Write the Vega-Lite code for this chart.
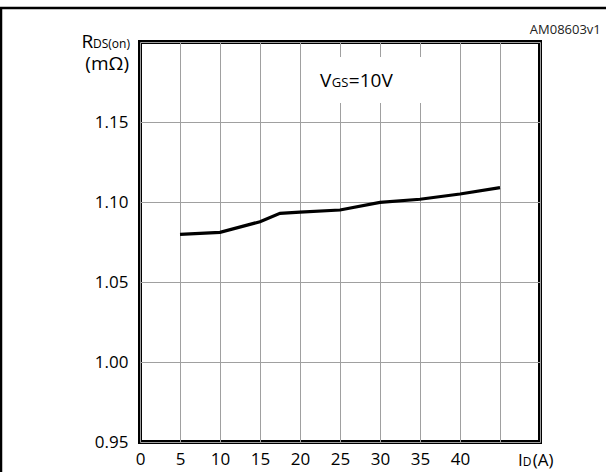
{
  "$schema": "https://vega.github.io/schema/vega-lite/v6.json",
  "width": 400,
  "height": 400,
  "autosize": "none",
  "padding": {"left": 140, "top": 42, "right": 66, "bottom": 30},
  "background": "white",
  "config": {
    "view": {"stroke": "black", "strokeWidth": 4},
    "font": "Open Sans",
    "axis": {
      "domain": false,
      "ticks": false,
      "grid": true,
      "gridColor": "#a0a0a0",
      "gridWidth": 1,
      "gridOpacity": 1,
      "labelFont": "Open Sans",
      "labelFontSize": 17,
      "labelColor": "black",
      "labelOverlap": false,
      "title": null
    }
  },
  "data": {
    "values": [
      {"id": 5, "r": 1.0798},
      {"id": 10, "r": 1.081},
      {"id": 15, "r": 1.0877},
      {"id": 17.5, "r": 1.0929},
      {"id": 20, "r": 1.0937},
      {"id": 25, "r": 1.095},
      {"id": 30, "r": 1.0998},
      {"id": 35, "r": 1.1017},
      {"id": 40, "r": 1.105},
      {"id": 45, "r": 1.109}
    ]
  },
  "encoding": {
    "x": {
      "field": "id",
      "type": "quantitative",
      "scale": {"domain": [0, 50], "nice": false, "zero": false},
      "axis": {
        "values": [0, 5, 10, 15, 20, 25, 30, 35, 40, 45, 50],
        "labelExpr": "datum.value <= 40 ? datum.label : ''",
        "labelPadding": 9,
        "labelFlush": false,
        "labelOverlap": false
      }
    },
    "y": {
      "field": "r",
      "type": "quantitative",
      "scale": {"domain": [0.95, 1.2], "nice": false, "zero": false},
      "axis": {
        "values": [0.95, 1.0, 1.05, 1.1, 1.15, 1.2],
        "format": ".2f",
        "labelExpr": "datum.value > 1.19 ? '' : datum.label",
        "labelPadding": 12,
        "labelOverlap": false
      }
    }
  },
  "layer": [
    {
      "mark": {"type": "line", "color": "black", "strokeWidth": 3.2}
    },
    {
      "transform": [{"filter": "datum.id == 5"}],
      "mark": {"type": "rect", "fill": "white", "stroke": null},
      "encoding": {
        "x": {"datum": 20.4},
        "x2": {"datum": 36.9},
        "y": {"datum": 1.1906},
        "y2": {"datum": 1.1619}
      }
    },
    {
      "transform": [{"filter": "datum.id == 5"}],
      "mark": {"type": "text", "align": "left", "baseline": "alphabetic", "fontSize": 19, "color": "black"},
      "encoding": {"x": {"datum": 22.5}, "y": {"datum": 1.1717}, "text": {"value": "V"}}
    },
    {
      "transform": [{"filter": "datum.id == 5"}],
      "mark": {"type": "text", "align": "left", "baseline": "alphabetic", "fontSize": 13, "color": "black"},
      "encoding": {"x": {"datum": 23.96}, "y": {"datum": 1.1717}, "text": {"value": "GS"}}
    },
    {
      "transform": [{"filter": "datum.id == 5"}],
      "mark": {"type": "text", "align": "left", "baseline": "alphabetic", "fontSize": 19, "color": "black"},
      "encoding": {"x": {"datum": 26.1}, "y": {"datum": 1.1717}, "text": {"value": "=10V"}}
    },
    {
      "transform": [{"filter": "datum.id == 5"}],
      "mark": {"type": "text", "align": "right", "baseline": "alphabetic", "fontSize": 19, "color": "black"},
      "encoding": {"x": {"datum": -5.85}, "y": {"datum": 1.196}, "text": {"value": "R"}}
    },
    {
      "transform": [{"filter": "datum.id == 5"}],
      "mark": {"type": "text", "align": "right", "baseline": "alphabetic", "fontSize": 12, "color": "black"},
      "encoding": {"x": {"datum": -1.25}, "y": {"datum": 1.196}, "text": {"value": "DS(on)"}}
    },
    {
      "transform": [{"filter": "datum.id == 5"}],
      "mark": {"type": "text", "align": "right", "baseline": "alphabetic", "fontSize": 19, "color": "black"},
      "encoding": {"x": {"datum": -1.375}, "y": {"datum": 1.1825}, "text": {"value": "(mΩ)"}}
    },
    {
      "transform": [{"filter": "datum.id == 5"}],
      "mark": {"type": "text", "align": "left", "baseline": "alphabetic", "fontSize": 17, "color": "black"},
      "encoding": {"x": {"datum": 47.25}, "y": {"datum": 0.9347}, "text": {"value": "I"}}
    },
    {
      "transform": [{"filter": "datum.id == 5"}],
      "mark": {"type": "text", "align": "left", "baseline": "alphabetic", "fontSize": 12, "color": "black"},
      "encoding": {"x": {"datum": 47.83}, "y": {"datum": 0.9347}, "text": {"value": "D"}}
    },
    {
      "transform": [{"filter": "datum.id == 5"}],
      "mark": {"type": "text", "align": "left", "baseline": "alphabetic", "fontSize": 17, "color": "black"},
      "encoding": {"x": {"datum": 49.1}, "y": {"datum": 0.9347}, "text": {"value": "(A)"}}
    },
    {
      "transform": [{"filter": "datum.id == 5"}],
      "mark": {"type": "text", "align": "right", "baseline": "middle", "fontSize": 13, "color": "#222222"},
      "encoding": {"x": {"datum": 57.6}, "y": {"datum": 1.2075}, "text": {"value": "AM08603v1"}}
    },
    {
      "transform": [{"filter": "datum.id == 5"}],
      "mark": {"type": "rule", "color": "black", "strokeWidth": 2.5},
      "encoding": {
        "x": {"datum": -17.5},
        "x2": {"datum": 58.25},
        "y": {"datum": 1.22125}
      }
    },
    {
      "transform": [{"filter": "datum.id == 5"}],
      "mark": {"type": "rule", "color": "black", "strokeWidth": 2.5},
      "encoding": {
        "x": {"datum": -17.375},
        "y": {"datum": 1.22125},
        "y2": {"datum": 0.93125}
      }
    }
  ]
}
